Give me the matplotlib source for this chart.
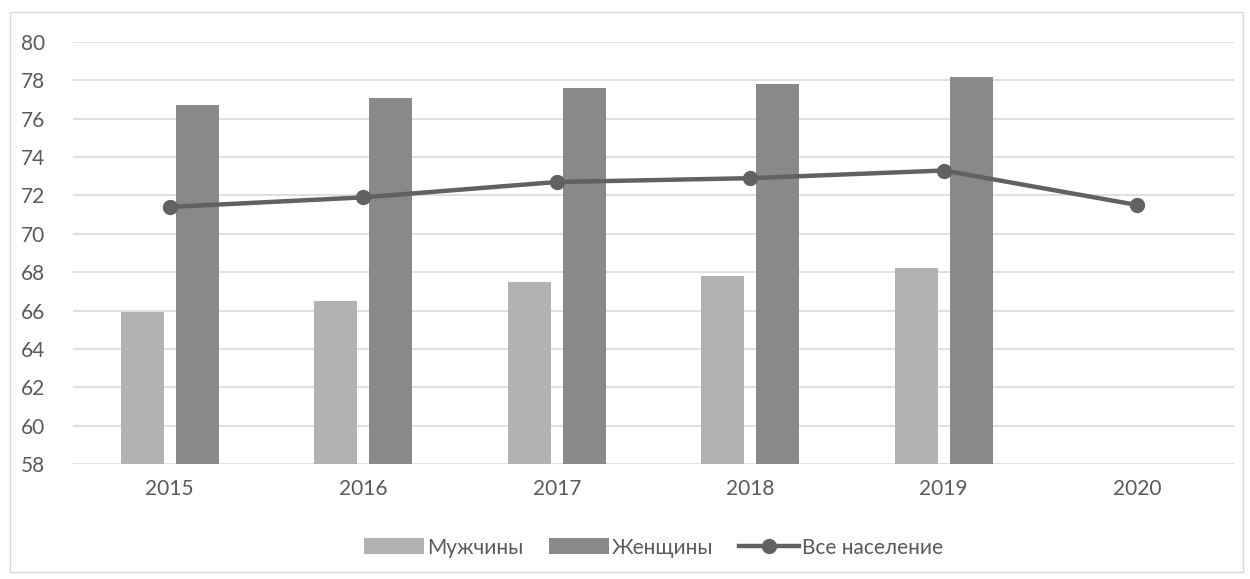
import numpy as np
import matplotlib.pyplot as plt
from matplotlib.patches import Rectangle

years = ["2015", "2016", "2017", "2018", "2019", "2020"]
muzhchiny = [65.9, 66.5, 67.5, 67.8, 68.2, np.nan]
zhenshchiny = [76.7, 77.1, 77.6, 77.8, 78.2, np.nan]
vse = [71.4, 71.9, 72.7, 72.9, 73.3, 71.5]

plt.rcParams['font.family'] = ['Lato', 'DejaVu Sans']

fig = plt.figure(figsize=(12.5, 5.79), dpi=100)
fig.patches.append(Rectangle((0.008, 0.012), 0.986, 0.967, transform=fig.transFigure,
                             fill=False, edgecolor="#d9d9d9", linewidth=1))
ax = fig.add_axes([0.0584, 0.1986, 0.9288, 0.7289])

x = np.arange(len(years))
w = 0.222
b1 = ax.bar(x - 0.142, muzhchiny, width=w, color="#b2b2b2", label="Мужчины", zorder=2)
b2 = ax.bar(x + 0.142, zhenshchiny, width=w, color="#898989", label="Женщины", zorder=2)
l1, = ax.plot(x, vse, color="#616161", linewidth=3.2, marker="o", markersize=10,
              label="Все население", zorder=3)

ax.set_ylim(58, 80)
ax.set_xlim(-0.5, len(years) - 0.5)
ax.set_yticks(range(58, 81, 2))
ax.set_xticks(x)
ax.set_xticklabels(years)
ax.yaxis.grid(True, color="#d9d9d9", linewidth=1.2, zorder=0)
ax.set_axisbelow(True)
for s in ax.spines.values():
    s.set_visible(False)
ax.tick_params(length=0, labelsize=15, labelcolor="#595959")
ax.tick_params(axis="y", pad=20)
ax.tick_params(axis="x", pad=11)

leg = ax.legend(handles=[b1, b2, l1], loc="upper center", bbox_to_anchor=(0.5, -0.13),
                ncol=3, frameon=False, fontsize=15, labelcolor="#595959",
                handlelength=2.9, handleheight=0.8, columnspacing=1.2, handletextpad=0.15)

plt.savefig("out.png")
